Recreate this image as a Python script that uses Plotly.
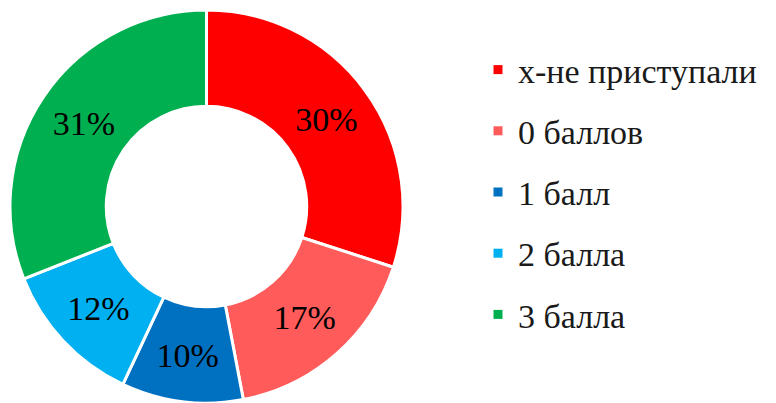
import plotly.graph_objects as go

# Distribution of scores for the task
labels = ["х-не приступали", "0 баллов", "1 балл", "2 балла", "3 балла"]
shares = [30, 17, 10, 12, 31]
colors = ["#FF0000", "#FF5B5B", "#0070C0", "#00B0F0", "#00B050"]

W, H = 776, 403
FONT = "Times New Roman, Liberation Serif, serif"

fig = go.Figure()

fig.add_trace(go.Pie(
    labels=labels,
    values=shares,
    sort=False,
    direction="clockwise",
    rotation=0,
    hole=0.51,
    marker=dict(colors=colors, line=dict(color="white", width=3)),
    texttemplate="%{value}%",
    textposition="inside",
    insidetextorientation="horizontal",
    insidetextfont=dict(family=FONT, size=34, color="black"),
    domain=dict(x=[10 / W, 403 / W], y=[0, 393 / H]),
    showlegend=False,
    hoverinfo="label+percent",
))

# Legend entries with square swatches, one group per category for even spacing
for name, col in zip(labels, colors):
    fig.add_trace(go.Scatter(
        x=[None], y=[None],
        mode="markers",
        marker=dict(symbol="square", size=9, color=col),
        name=name,
        legendgroup=name,
        showlegend=True,
    ))

fig.update_layout(
    width=W, height=H,
    margin=dict(l=0, r=0, t=0, b=0),
    font=dict(family=FONT, size=30, color="#1a1a1a"),
    paper_bgcolor="white",
    plot_bgcolor="white",
    xaxis=dict(visible=False),
    yaxis=dict(visible=False),
    legend=dict(
        x=478 / W, xanchor="left",
        y=1 - 192 / H, yanchor="middle",
        font=dict(family=FONT, size=34, color="#1a1a1a"),
        tracegroupgap=14,
        bgcolor="rgba(0,0,0,0)",
    ),
)

fig.write_html("out.html")
